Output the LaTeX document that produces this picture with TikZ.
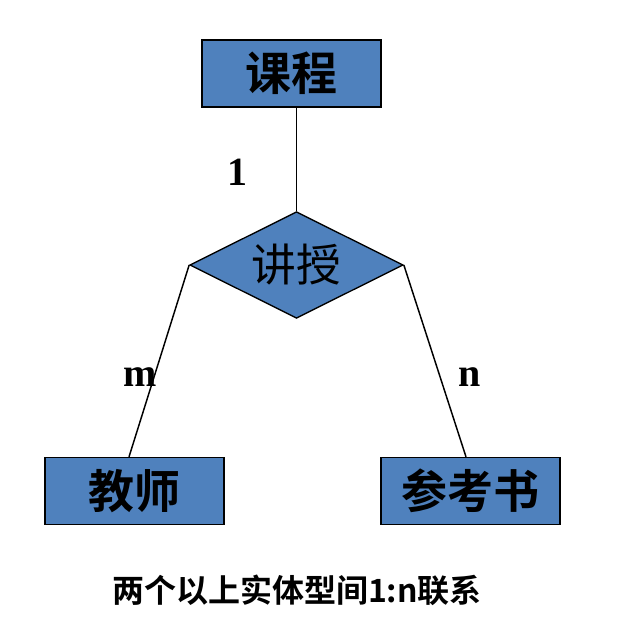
\documentclass[tikz,border=0pt]{standalone}
\usepackage{fontspec}
\setmainfont{Liberation Serif}
\newfontfamily\cjk{Noto Sans CJK SC}
\newfontfamily\cjkbold{Noto Sans CJK SC Bold}
\usetikzlibrary{shapes.geometric}
\definecolor{erblue}{RGB}{79,129,189}
\tikzset{
  ent/.style={rectangle,draw=black,line width=1.2pt,fill=erblue,
              minimum width=134pt,minimum height=50pt,inner sep=0pt,
              font=\cjkbold\fontsize{34.5}{38}\selectfont},
  rel/.style={diamond,draw=black,line width=1pt,fill=erblue,aspect=2,
              minimum width=160pt,minimum height=80pt,inner sep=0pt,
              font=\cjk\fontsize{33.5}{37}\selectfont},
  card/.style={font=\bfseries\fontsize{30}{34}\selectfont},
  link/.style={line width=1.1pt,color=black},
}
\begin{document}
\begin{tikzpicture}[x=0.75pt,y=-0.75pt]
    \useasboundingbox (0,0) rectangle (632,630);

    \node[ent] (course)  at (291.5,73.5) {课程};
    \node[rel] (teach)   at (296.5,265)  {讲授};
    \node[ent] (teacher) at (134.5,491)  {教师};
    \node[ent] (book)    at (470.5,491)  {参考书};

    \draw[link] (teach.north |- course.south) -- (teach.north);
    \draw[link] (teach.west) -- (teacher.north -| 129,0);
    \draw[link] (teach.east) -- (book.north -| 466,0);

    \node[card] at (237,172) {1};
    \node[card] at (140,377) {m};
    \node[card] at (470,377) {n};

    \node[font=\cjkbold\fontsize{24}{27}\selectfont] (cap) at (297,590)
      {两个以上实体型间1:n联系};
  \end{tikzpicture}
\end{document}
